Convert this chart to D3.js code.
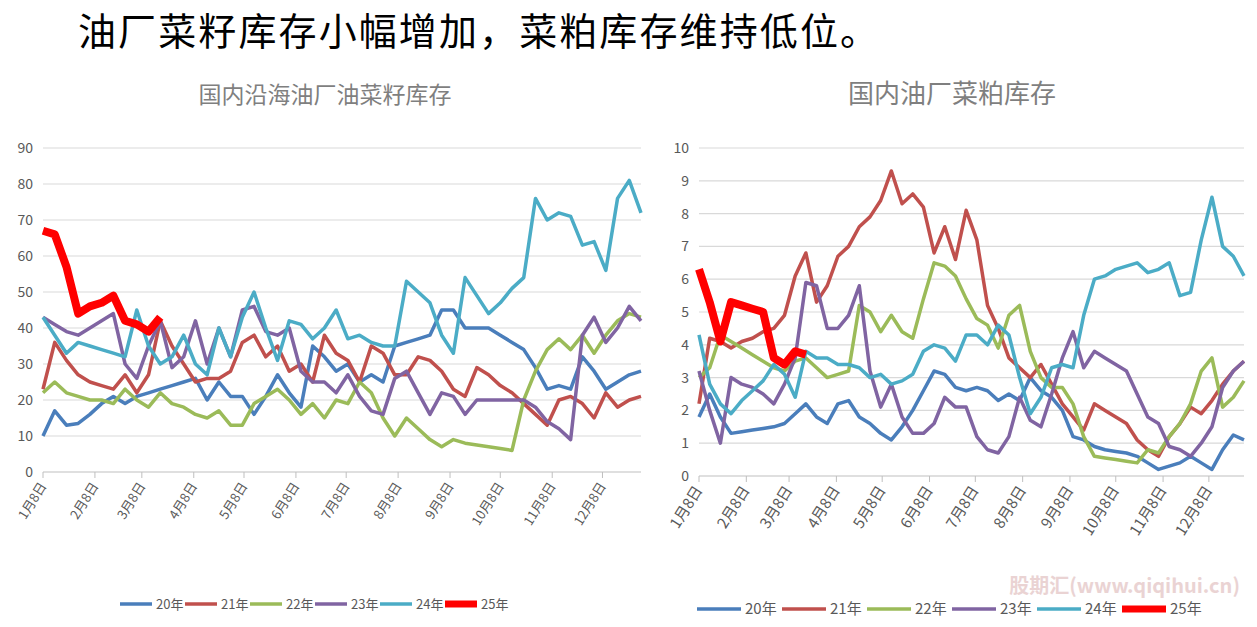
<!DOCTYPE html>
<html><head><meta charset="utf-8">
<script src="https://cdn.jsdelivr.net/npm/d3@7"></script>
<style>body{margin:0;background:#fff;}svg{font-family:"Noto Sans CJK SC","Noto Sans",sans-serif;}</style>
</head><body><svg id="c" width="1257" height="627"></svg>
<script>
const seriesNames = ["20年","21年","22年","23年","24年","25年"];
const colors = ["#4a7ebb","#c0504d","#9bbb59","#8064a2","#4bacc6","#ff0000"];
const monthTicks = ["1月8日","2月8日","3月8日","4月8日","5月8日","6月8日","7月8日","8月8日","9月8日","10月8日","11月8日","12月8日"];
const leftTicks = [0,10,20,30,40,50,60,70,80,90];
const rightTicks = [0,1,2,3,4,5,6,7,8,9,10];

const rapeseed20 = [10,17,13,13.5,16,19,21,19,21,22,23,24,25,26,20,25,21,21,16,21,27,22,18,35,32,28,30,25,27,25,35,36,37,38,45,45,40,40,40,38,36,34,29,23,24,23,32,28,23,25,27,28];
const rapeseed21 = [23,36,31,27,25,24,23,27,22,27,42,35,30,25,26,26,28,36,38,32,35,28,30,25,38,33,31,25,35,33,27,27,32,31,28,23,21,29,27,24,22,19,16,13,20,21,19,15,22,18,20,21];
const rapeseed22 = [22,25,22,21,20,20,19,23,20,18,22,19,18,16,15,17,13,13,19,21,23,20,16,19,15,20,19,25,22,15,10,15,12,9,7,9,8,7.5,7,6.5,6,20,28,34,37,34,38,33,38,42,44,43];
const rapeseed23 = [43,41,39,38,40,42,44,30,26,35,42,29,32,42,30,40,32,45,46,39,38,40,28,25,25,22,27,21,17,16,26,28,22,16,22,21,16,20,20,20,20,20,18,14,12,9,38,43,36,40,46,42];
const rapeseed24 = [43,38,33,36,35,34,33,32,45,35,30,32,38,30,27,40,32,43,50,40,31,42,41,37,40,45,37,38,36,35,35,53,50,47,38,33,54,49,44,47,51,54,76,70,72,71,63,64,56,76,81,72];
const rapeseed25 = [67,66,57,44,46,47,49,42,41,39,43];

const meal20 = [1.8,2.5,1.8,1.3,1.35,1.4,1.45,1.5,1.6,1.9,2.2,1.8,1.6,2.2,2.3,1.8,1.6,1.3,1.1,1.5,2.0,2.6,3.2,3.1,2.7,2.6,2.7,2.6,2.3,2.5,2.3,3.0,2.6,2.4,2.0,1.2,1.1,0.9,0.8,0.75,0.7,0.6,0.4,0.2,0.3,0.4,0.6,0.4,0.2,0.8,1.25,1.1];
const meal21 = [2.2,4.2,4.1,3.9,4.1,4.2,4.4,4.5,4.9,6.1,6.8,5.3,5.8,6.7,7.0,7.6,7.9,8.4,9.3,8.3,8.6,8.2,6.8,7.6,6.6,8.1,7.2,5.2,4.5,3.6,3.3,3.0,3.4,2.8,2.2,1.8,1.4,2.2,2.0,1.8,1.6,1.1,0.8,0.6,1.2,1.6,2.1,1.9,2.3,2.8,3.2,3.5];
const meal22 = [3.0,3.3,4.3,4.1,3.9,3.7,3.5,3.3,3.2,3.5,3.6,3.3,3.0,3.1,3.2,5.2,5.0,4.4,4.9,4.4,4.2,5.4,6.5,6.4,6.1,5.4,4.8,4.6,3.9,4.9,5.2,3.8,3.0,2.7,2.7,2.2,1.2,0.6,0.55,0.5,0.45,0.4,0.8,0.7,1.2,1.6,2.2,3.2,3.6,2.1,2.4,2.9];
const meal23 = [3.2,2.0,1.0,3.0,2.8,2.7,2.5,2.2,2.8,3.6,5.9,5.8,4.5,4.5,4.9,5.8,3.2,2.1,2.8,1.8,1.3,1.3,1.6,2.4,2.1,2.1,1.2,0.8,0.7,1.2,2.4,1.7,1.5,2.5,3.6,4.4,3.3,3.8,3.6,3.4,3.2,2.5,1.8,1.6,0.9,0.8,0.6,1.0,1.5,2.7,3.2,3.5];
const meal24 = [4.3,2.8,2.2,1.9,2.3,2.6,2.9,3.4,3.1,2.4,3.8,3.6,3.6,3.4,3.4,3.3,3.0,3.1,2.8,2.9,3.1,3.8,4.0,3.9,3.5,4.3,4.3,4.0,4.6,4.3,3.0,1.9,2.4,3.3,3.4,3.3,4.9,6.0,6.1,6.3,6.4,6.5,6.2,6.3,6.5,5.5,5.6,7.2,8.5,7.0,6.7,6.1];
const meal25 = [6.3,5.3,4.1,5.3,5.2,5.1,5.0,3.6,3.4,3.8,3.7];

const svg = d3.select("#c");
svg.append("text").attr("x",78).attr("y",45).attr("font-size",38).attr("fill","#000")
  .attr("textLength",800).attr("lengthAdjust","spacing")
  .text("油厂菜籽库存小幅增加，菜粕库存维持低位。");

function panel(cfg){
  const t0 = new Date(2021,0,8);
  const t1 = d3.timeDay.offset(t0, 357);
  const x = d3.scaleTime().domain([t0,t1]).range([cfg.x0,cfg.x1]);
  const y = d3.scaleLinear().domain([0,cfg.max]).range([cfg.y0,cfg.y1]);
  const g = svg.append("g");
  g.append("text").attr("x",cfg.tx).attr("y",103).attr("text-anchor","middle")
    .attr("font-size",cfg.tfs).attr("fill","#7f7f7f").text(cfg.title);
  g.selectAll(".grid").data(cfg.ticks).join("line")
    .attr("x1",cfg.x0).attr("x2",cfg.x1).attr("y1",d=>y(d)).attr("y2",d=>y(d))
    .attr("stroke",d=>d===0?"#bfbfbf":"#d9d9d9").attr("stroke-width",1.2);
  g.selectAll(".yl").data(cfg.ticks).join("text")
    .attr("x",cfg.x0-10).attr("y",d=>y(d)+5).attr("text-anchor","end")
    .attr("font-size",14).attr("fill","#595959").text(d=>d);
  const mdates = monthTicks.map((_,i)=>new Date(2021,i,8));
  g.selectAll(".xt").data(mdates).join("line")
    .attr("x1",d=>x(d)).attr("x2",d=>x(d)).attr("y1",cfg.y0).attr("y2",cfg.y0+6).attr("stroke","#bfbfbf");
  g.selectAll(".xl").data(mdates).join("text")
    .attr("transform",d=>`translate(${x(d)+4},${cfg.y0+14}) rotate(-58)`)
    .attr("text-anchor","end").attr("font-size",cfg.xfs).attr("fill","#595959")
    .text((d,i)=>monthTicks[i]);
  const line = d3.line().x((d,i)=>x(d3.timeDay.offset(t0,i*7))).y(d=>y(d));
  cfg.data.forEach((s,k)=>{
    g.append("path").attr("d",line(s)).attr("fill","none").attr("stroke",colors[k])
      .attr("stroke-width",k===5?8:3.5).attr("stroke-linejoin","round");
  });
  seriesNames.forEach((n,k)=>{
    const lx = cfg.lx + k*cfg.ls;
    g.append("line").attr("x1",lx).attr("x2",lx+cfg.lw).attr("y1",cfg.ly).attr("y2",cfg.ly)
      .attr("stroke",colors[k]).attr("stroke-width",k===5?7:3.5);
    g.append("text").attr("x",lx+cfg.lw+4).attr("y",cfg.ly+5).attr("font-size",cfg.lfs)
      .attr("fill","#595959").text(n);
  });
}

panel({x0:43,x1:641,y0:472,y1:148,max:90,ticks:leftTicks,title:"国内沿海油厂油菜籽库存",tx:325,tfs:23,
  data:[rapeseed20,rapeseed21,rapeseed22,rapeseed23,rapeseed24,rapeseed25],xfs:13,
  lx:120,ls:65,lw:32,ly:604,lfs:13});
panel({x0:699,x1:1244,y0:476,y1:148,max:10,ticks:rightTicks,title:"国内油厂菜粕库存",tx:952,tfs:26,
  data:[meal20,meal21,meal22,meal23,meal24,meal25],xfs:15,
  lx:697,ls:85,lw:44,ly:609,lfs:15});

svg.append("text").attr("x",1240).attr("y",593).attr("text-anchor","end")
  .attr("font-size",20).attr("font-weight","bold").attr("fill","#e6c9c9").attr("opacity",0.8)
  .text("股期汇(www.qiqihui.cn)");
</script></body></html>
